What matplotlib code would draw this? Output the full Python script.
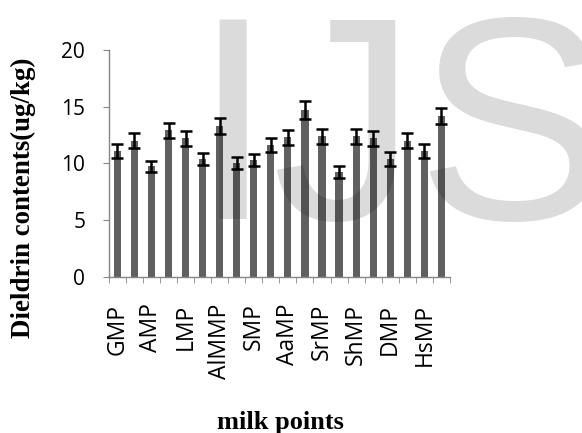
import numpy as np
import matplotlib
matplotlib.use("Agg")
import matplotlib.pyplot as plt

# milk points (only every other one is labelled on the axis)
labels = ["GMP", "AMP", "LMP", "AlMMP", "SMP", "AaMP", "SrMP", "ShMP", "DMP", "HsMP"]
values = [11.1, 12.0, 9.75, 12.9, 12.2, 10.4, 13.3, 10.0, 10.3, 11.6,
          12.3, 14.7, 12.4, 9.25, 12.4, 12.2, 10.4, 12.0, 11.1, 14.2]
errors = [0.6, 0.65, 0.5, 0.7, 0.65, 0.55, 0.7, 0.53, 0.55, 0.62,
          0.66, 0.77, 0.66, 0.5, 0.66, 0.66, 0.58, 0.67, 0.58, 0.72]

fig = plt.figure(figsize=(5.82, 4.33), dpi=100)
ax = fig.add_axes([0.187, 0.360, 0.586, 0.525])

x = np.arange(len(values))
ax.bar(x, values, width=0.42, color="#606060", yerr=errors,
       error_kw=dict(ecolor="black", elinewidth=1.8, capsize=4.2, capthick=1.8))

ax.set_xlim(-0.5, len(values) - 0.5)
ax.set_ylim(0, 20)
ax.set_yticks([0, 5, 10, 15, 20])
ax.set_xticks(x[::2])
ax.set_xticklabels(labels, rotation=90, fontsize=16.5, family="Open Sans")
ax.set_xticks(np.arange(len(values) + 1) - 0.5, minor=True)
ax.tick_params(axis="x", which="major", length=0, pad=19)
ax.tick_params(axis="x", which="minor", length=4, color="#868686", direction="out")
ax.tick_params(axis="y", length=4, color="#868686", direction="out", pad=13)
for t in ax.get_yticklabels():
    t.set_fontsize(15)
    t.set_family("Open Sans")

for s in ["top", "right"]:
    ax.spines[s].set_visible(False)
for s in ["left", "bottom"]:
    ax.spines[s].set_color("#868686")
    ax.spines[s].set_linewidth(1.0)

fig.text(0.040, 0.543, "Dieldrin contents(ug/kg)", rotation=90, ha="center", va="center",
         fontsize=19.4, fontweight="bold", family="Liberation Serif")
fig.text(0.481, 4 / 433, "milk points", ha="center", va="baseline",
         fontsize=19, fontweight="bold", family="Liberation Serif")

# watermark
fig.text(192 / 582, 1 - 219 / 433, "IJS", fontsize=208, family="Liberation Sans",
         color="black", alpha=0.14, ha="left", va="baseline")

fig.savefig("out.png", dpi=100)
